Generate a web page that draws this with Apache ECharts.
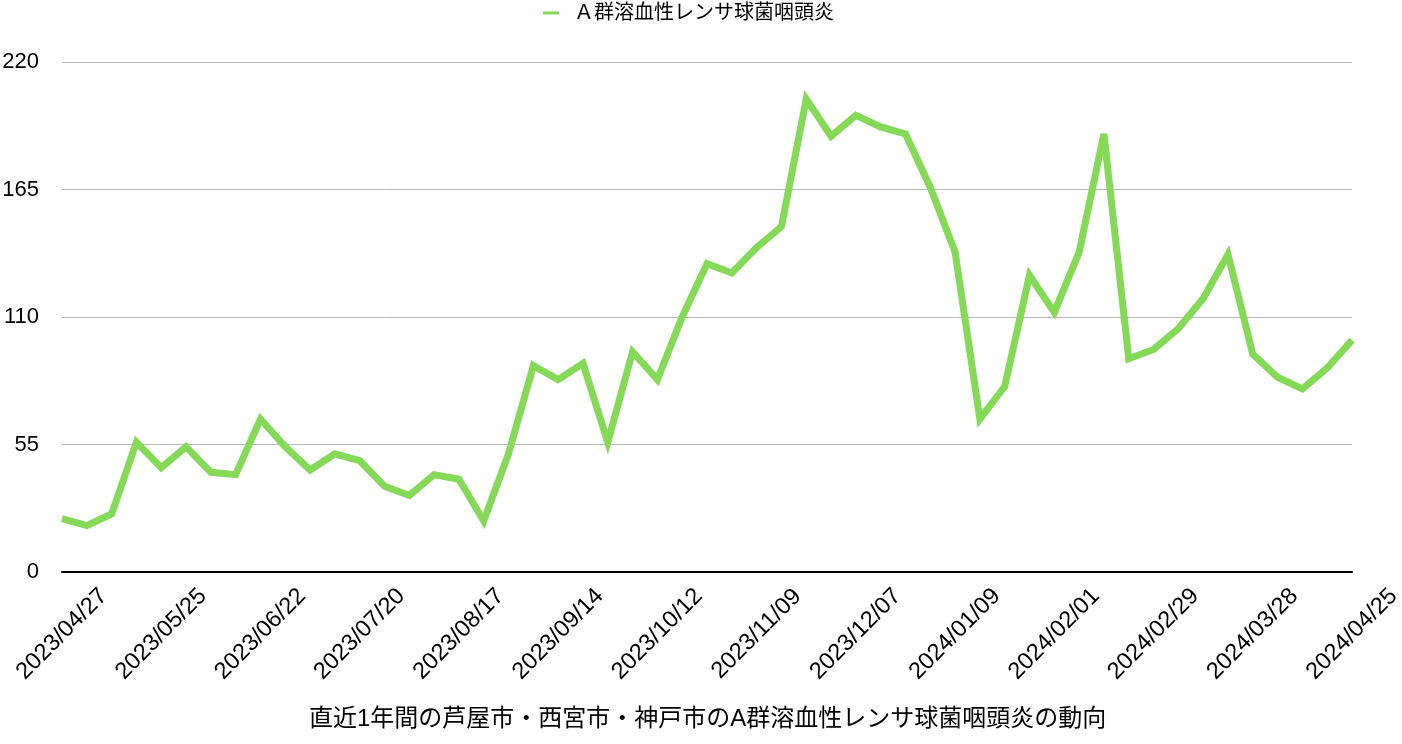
<!DOCTYPE html>
<html>
<head>
<meta charset="utf-8">
<script src="https://cdn.jsdelivr.net/npm/echarts@6/dist/echarts.min.js"></script>
<style>
html,body{margin:0;padding:0;background:#fff;}
#chart{width:1402px;height:744px;}
</style>
</head>
<body>
<div id="chart"></div>
<script>
const seriesName = 'Ａ群溶血性レンサ球菌咽頭炎';
const chartTitle = '直近1年間の芦屋市・西宮市・神戸市のA群溶血性レンサ球菌咽頭炎の動向';
const dates = [
  '2023/04/27','2023/05/04','2023/05/11','2023/05/18','2023/05/25','2023/06/01','2023/06/08','2023/06/15',
  '2023/06/22','2023/06/29','2023/07/06','2023/07/13','2023/07/20','2023/07/27','2023/08/03','2023/08/10',
  '2023/08/17','2023/08/24','2023/08/31','2023/09/07','2023/09/14','2023/09/21','2023/09/28','2023/10/05',
  '2023/10/12','2023/10/19','2023/10/26','2023/11/02','2023/11/09','2023/11/16','2023/11/24','2023/11/30',
  '2023/12/07','2023/12/14','2023/12/21','2023/12/28','2024/01/09','2024/01/11','2024/01/18','2024/01/25',
  '2024/02/01','2024/02/08','2024/02/15','2024/02/22','2024/02/29','2024/03/07','2024/03/14','2024/03/21',
  '2024/03/28','2024/04/04','2024/04/11','2024/04/18','2024/04/25'
];
const values = [
  23,20,25,56,45,54,43,42,66,54,
  44,51,48,37,33,42,40,22,51,89,
  83,90,56,95,83,110,133,129,140,149,
  204,188,197,192,189,166,138,66,80,128,
  112,138,189,92,96,105,118,137,94,84,
  79,88,100
];
const yMin = 0, yMax = 220, yStep = 55;

const FONT = "'Liberation Sans', 'Noto Sans CJK JP', sans-serif";
const chart = echarts.init(document.getElementById('chart'), null, {renderer: 'canvas'});
chart.setOption({
  animation: false,
  backgroundColor: '#ffffff',
  textStyle: {fontFamily: FONT},
  title: {
    text: chartTitle,
    left: 304,
    top: 702,
    textStyle: {fontSize: 24, fontWeight: 'normal', color: '#000', fontFamily: FONT}
  },
  legend: {
    top: -2,
    left: 538,
    icon: 'rect',
    itemWidth: 16,
    itemHeight: 3,
    textStyle: {fontSize: 20, color: '#000', fontFamily: FONT, padding: [0, 0, 0, 10]},
    data: [seriesName]
  },
  grid: {left: 62, right: 50, top: 62, bottom: 172, containLabel: false, outerBoundsMode: 'none'},
  xAxis: {
    type: 'category',
    data: dates,
    boundaryGap: false,
    axisLine: {show: true, lineStyle: {color: '#000', width: 2}},
    axisTick: {show: false},
    axisLabel: {
      interval: 3,
      rotate: 45,
      align: 'center',
      verticalAlign: 'middle',
      margin: 62,
      fontSize: 23.5,
      color: '#000',
      fontFamily: FONT
    },
    splitLine: {show: false}
  },
  yAxis: {
    type: 'value',
    min: yMin,
    max: yMax,
    interval: yStep,
    axisLine: {show: false},
    axisTick: {show: false},
    axisLabel: {fontSize: 22, color: '#000', margin: 23, fontFamily: FONT},
    splitLine: {show: true, lineStyle: {color: '#b8b8b8', width: 1}}
  },
  series: [{
    name: seriesName,
    type: 'line',
    data: values,
    showSymbol: false,
    symbol: 'none',
    color: '#84d957',
    lineStyle: {color: '#84d957', width: 7, join: 'miter', miterLimit: 5, cap: 'butt'}
  }]
});
</script>
</body>
</html>
